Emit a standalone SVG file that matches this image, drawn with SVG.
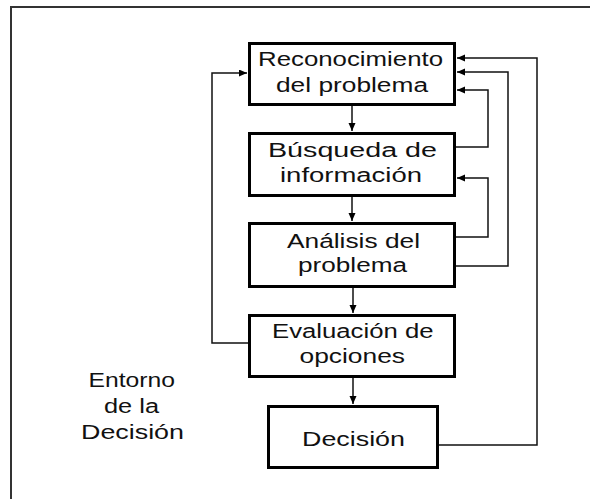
<svg xmlns="http://www.w3.org/2000/svg" width="590" height="499" viewBox="0 0 590 499">
<style>
.box{fill:#fff;stroke:#000;stroke-width:3}
.t{font-family:"Liberation Sans",Arial,sans-serif;font-size:19.5px;fill:#111}
.c{fill:none;stroke:#111;stroke-width:1.5}
.frame{fill:none;stroke:#333;stroke-width:2}
</style>
<defs>
<marker id="ah" markerUnits="userSpaceOnUse" markerWidth="9" markerHeight="8" refX="8" refY="3.5" orient="auto">
<path d="M0,0 L8,3.5 L0,7 z" fill="#000"/>
</marker>
</defs>
<rect width="590" height="499" fill="#fff"/>
<path class="frame" d="M11,499 V7 H590"/>
<g id="connectors">
<line class="c" x1="352" y1="106" x2="352" y2="131" marker-end="url(#ah)"/>
<line class="c" x1="352" y1="197" x2="352" y2="221" marker-end="url(#ah)"/>
<line class="c" x1="353" y1="288" x2="353" y2="313" marker-end="url(#ah)"/>
<line class="c" x1="353" y1="378" x2="353" y2="404" marker-end="url(#ah)"/>
<polyline class="c" points="456,147 488,147 488,90 457,90" marker-end="url(#ah)"/>
<polyline class="c" points="456,237 488,237 488,178 457,178" marker-end="url(#ah)"/>
<polyline class="c" points="456,266 508,266 508,72 457,72" marker-end="url(#ah)"/>
<polyline class="c" points="439,445 537,445 537,58 457,58" marker-end="url(#ah)"/>
<polyline class="c" points="248,343 212,343 212,73 247,73" marker-end="url(#ah)"/>
</g>
<g id="reconocimiento">
<rect class="box" x="249.5" y="43.5" width="205" height="61"/>
<text class="t" x="258" y="66" textLength="185" lengthAdjust="spacingAndGlyphs">Reconocimiento</text>
<text class="t" x="276" y="92" textLength="152" lengthAdjust="spacingAndGlyphs">del problema</text>
</g>
<g id="busqueda">
<rect class="box" x="249.5" y="133.5" width="205" height="62"/>
<text class="t" x="268" y="157" textLength="169" lengthAdjust="spacingAndGlyphs">Búsqueda de</text>
<text class="t" x="280" y="182" textLength="142" lengthAdjust="spacingAndGlyphs">información</text>
</g>
<g id="analisis">
<rect class="box" x="249.5" y="223.5" width="205" height="63"/>
<text class="t" x="287" y="247.5" textLength="133" lengthAdjust="spacingAndGlyphs">Análisis del</text>
<text class="t" x="298" y="272" textLength="109" lengthAdjust="spacingAndGlyphs">problema</text>
</g>
<g id="evaluacion">
<rect class="box" x="249.5" y="315.5" width="205" height="61"/>
<text class="t" x="272" y="337.5" textLength="161.5" lengthAdjust="spacingAndGlyphs">Evaluación de</text>
<text class="t" x="299.5" y="363" textLength="105.5" lengthAdjust="spacingAndGlyphs">opciones</text>
</g>
<g id="decision">
<rect class="box" x="268.5" y="406.5" width="169" height="61"/>
<text class="t" x="302" y="446" textLength="103" lengthAdjust="spacingAndGlyphs">Decisión</text>
</g>
<g id="entorno">
<text class="t" x="88.5" y="387" textLength="86.5" lengthAdjust="spacingAndGlyphs">Entorno</text>
<text class="t" x="104" y="412.5" textLength="55" lengthAdjust="spacingAndGlyphs">de la</text>
<text class="t" x="81" y="439" textLength="103" lengthAdjust="spacingAndGlyphs">Decisión</text>
</g>
</svg>
